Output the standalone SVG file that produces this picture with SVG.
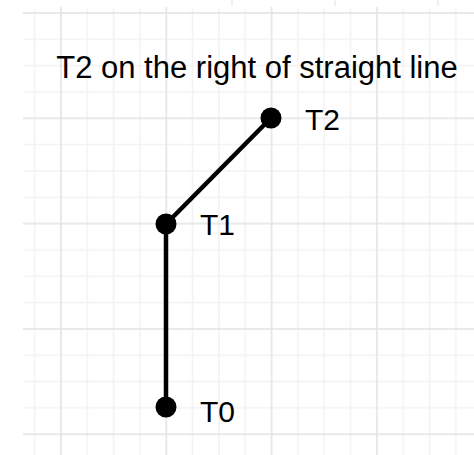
<svg xmlns="http://www.w3.org/2000/svg" width="474" height="455" viewBox="0 0 474 455">
  <defs>
    <style>
      .minor { stroke: #f2f2f2; stroke-width: 1.5; }
      .major { stroke: #e2e2e2; stroke-width: 1.5; }
      .txt { font-family: "Liberation Sans", Arial, sans-serif; fill: #000; }
      .dot { fill: #000; }
      .edge { stroke: #000; stroke-width: 4.5; fill: none; }
    </style>
    <pattern id="grid" x="61" y="13" width="105.3" height="105.3" patternUnits="userSpaceOnUse">
      <line class="minor" x1="26.3" y1="0" x2="26.3" y2="105.3"/>
      <line class="minor" x1="52.6" y1="0" x2="52.6" y2="105.3"/>
      <line class="minor" x1="79" y1="0" x2="79" y2="105.3"/>
      <line class="minor" x1="0" y1="26.3" x2="105.3" y2="26.3"/>
      <line class="minor" x1="0" y1="52.6" x2="105.3" y2="52.6"/>
      <line class="minor" x1="0" y1="79" x2="105.3" y2="79"/>
      <line class="major" x1="0" y1="0" x2="0" y2="105.3"/>
      <line class="major" x1="105.3" y1="0" x2="105.3" y2="105.3"/>
      <line class="major" x1="0" y1="0" x2="105.3" y2="0"/>
      <line class="major" x1="0" y1="105.3" x2="105.3" y2="105.3"/>
    </pattern>
  </defs>
  <rect width="474" height="455" fill="#fff"/>
  <rect x="23" y="7" width="451" height="448" fill="url(#grid)"/>
  <g id="top-remnants" stroke="#ececec" stroke-width="1.5">
    <line x1="232" y1="0" x2="232" y2="6"/>
    <line x1="335" y1="0" x2="335" y2="6"/>
    <line x1="438" y1="0" x2="438" y2="6"/>
  </g>

  <g id="title">
    <text class="txt" x="257" y="78" font-size="31" text-anchor="middle">T2 on the right of straight line</text>
  </g>

  <g id="connectors">
    <line class="edge" x1="166" y1="407" x2="166" y2="224"/>
    <line class="edge" x1="166" y1="224" x2="271" y2="118"/>
  </g>

  <g id="T0">
    <circle class="dot" cx="166" cy="407" r="10.5"/>
    <text class="txt" x="200" y="422" font-size="30">T0</text>
  </g>
  <g id="T1">
    <circle class="dot" cx="166" cy="224" r="10.5"/>
    <text class="txt" x="200" y="235" font-size="30">T1</text>
  </g>
  <g id="T2">
    <circle class="dot" cx="271" cy="118" r="10.5"/>
    <text class="txt" x="305" y="130" font-size="30">T2</text>
  </g>
</svg>
